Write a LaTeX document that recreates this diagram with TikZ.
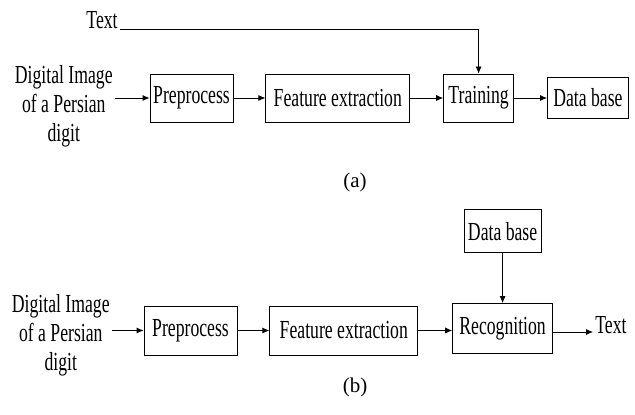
\documentclass[tikz,border=0pt]{standalone}
\usepackage{fontspec}
\setmainfont{Liberation Serif}[FakeStretch=0.68]
\newfontfamily\capfont{Liberation Serif}
\usetikzlibrary{arrows.meta,positioning}

\begin{document}
\begin{tikzpicture}[
        x=1pt, y=1pt,
        node distance=32pt,
        every path/.style={line width=0.8pt},
        >={Latex[length=7pt,width=6pt]},
        block/.style={draw, minimum height=48pt, inner xsep=2pt, font=\fontsize{26}{29}\selectfont},
        plain/.style={align=center, inner sep=2pt, font=\fontsize{26}{29}\selectfont},
        caption/.style={font=\capfont\fontsize{21}{25}\selectfont}
    ]
    \useasboundingbox (0,0) rectangle (635,415);

    % Nodes (a)
    \node (in_a)[plain, anchor=east] at (115,308.5) {Digital Image\\of a Persian\\digit};
    \node (pre_a)[block, minimum width=83pt] at (191.5,317) {Preprocess};
    \node (feat_a)[block, minimum width=144pt, right=of pre_a] {Feature extraction};
    \node (train_a)[block, minimum width=70pt, right=33pt of feat_a] {Training};
    \node (db_a)[block, minimum width=81pt, minimum height=41pt, right=33pt of train_a] {Data base};
    \node (txt_a)[plain, anchor=base east] at (120,386) {Text};
    \node (cap_a)[caption] at (355,233) {(a)};

    % Nodes (b)
    \node (in_b)[plain, anchor=east] at (112,80) {Digital Image\\of a Persian\\digit};
    \node (pre_b)[block, minimum width=93pt, minimum height=49pt] at (190.5,84.5) {Preprocess};
    \node (feat_b)[block, minimum width=148pt, minimum height=49pt, right=of pre_b] {Feature extraction};
    \node (rec_b)[block, minimum width=100pt, minimum height=50pt, right=34pt of feat_b, yshift=2pt] {Recognition};
    \node (db_b)[block, minimum width=77pt, minimum height=43pt, above=50pt of rec_b] {Data base};
    \node (out_b)[plain, right=40pt of rec_b, yshift=3pt] {Text};
    \node (cap_b)[caption] at (355,28) {(b)};

    % Edges (a)
    \draw[->] (in_a.east |- pre_a.west) -- (pre_a.west);
    \draw[->] (pre_a) -- (feat_a);
    \draw[->] (feat_a) -- (train_a);
    \draw[->] (train_a) -- (db_a.west |- train_a.east);
    \draw[->] (txt_a.base east) -| (train_a.north);

    % Edges (b)
    \draw[->] (in_b.east |- pre_b.west) -- (pre_b.west);
    \draw[->] (pre_b) -- (feat_b.west |- pre_b.east);
    \draw[->] (feat_b.east) -- (rec_b.west |- feat_b.east);
    \draw[->] (db_b) -- (rec_b);
    \draw[->] (rec_b.east |- 0,83) -- (out_b.west |- 0,83);

    \end{tikzpicture}
\end{document}
